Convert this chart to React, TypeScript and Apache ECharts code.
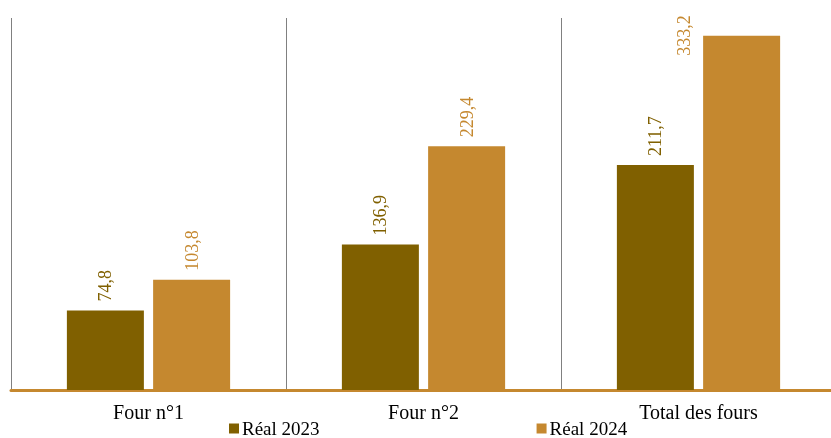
import React, { useEffect, useRef } from "react";
import * as echarts from "echarts";

const categories = ["Four n°1", "Four n°2", "Total des fours"];
const seriesNames = ["Réal 2023", "Réal 2024"];
const real2023 = [74.8, 136.9, 211.7];
const real2024 = [103.8, 229.4, 333.2];
const colors = ["#806000", "#C5882F"];

const FONT = "'Liberation Serif', 'DejaVu Serif', serif";

export default function App() {
  const ref = useRef<HTMLDivElement>(null);
  useEffect(() => {
    const chart = echarts.init(ref.current!, null, { renderer: "svg" });
    const fmt = (p: any) => Number(p.value).toFixed(1).replace(".", ",");
    const labelFor = (color: string) => ({
      show: true,
      position: "top",
      rotate: 90,
      align: "left",
      verticalAlign: "middle",
      distance: 9,
      formatter: fmt,
      fontFamily: FONT,
      fontSize: 18,
      color,
    });
    const maxIdx = real2024.indexOf(Math.max(...real2024));
    const data2024 = real2024.map((v, i) =>
      i === maxIdx ? { value: v, label: { position: [-19, 20] } } : v
    );
    chart.setOption({
      animation: false,
      textStyle: { fontFamily: FONT },
      grid: { left: 11, right: 5, top: 18, bottom: 48, containLabel: false },
      legend: {
        data: seriesNames,
        left: 229,
        top: 419,
        padding: 0,
        itemWidth: 10,
        itemHeight: 10,
        itemGap: 217,
        icon: "rect",
        textStyle: { fontFamily: FONT, fontSize: 19, lineHeight: 19, color: "#000", padding: [0, 0, 0, -2] },
      },
      xAxis: {
        type: "category",
        data: categories,
        axisLine: { show: true, lineStyle: { color: "#C5882F", width: 3 } },
        axisTick: { show: false },
        splitLine: { show: true, lineStyle: { color: "#808080", width: 1 } },
        axisLabel: { fontFamily: FONT, fontSize: 20, color: "#000", margin: 12 },
      },
      yAxis: {
        type: "value",
        min: 0,
        max: 350,
        show: false,
        splitLine: { show: false },
      },
      series: [
        {
          name: seriesNames[0],
          type: "bar",
          data: real2023,
          barWidth: 77,
          barGap: "12%",
          itemStyle: { color: colors[0] },
          label: labelFor(colors[0]),
        },
        {
          name: seriesNames[1],
          type: "bar",
          data: data2024,
          barWidth: 77,
          itemStyle: { color: colors[1] },
          label: labelFor(colors[1]),
        },
      ],
    });
    return () => chart.dispose();
  }, []);
  return (
    <div style={{ position: "fixed", left: 0, top: 0, width: 831, height: 438, overflow: "hidden" }}>
      <div ref={ref} style={{ width: 841, height: 438 }} />
    </div>
  );
}
